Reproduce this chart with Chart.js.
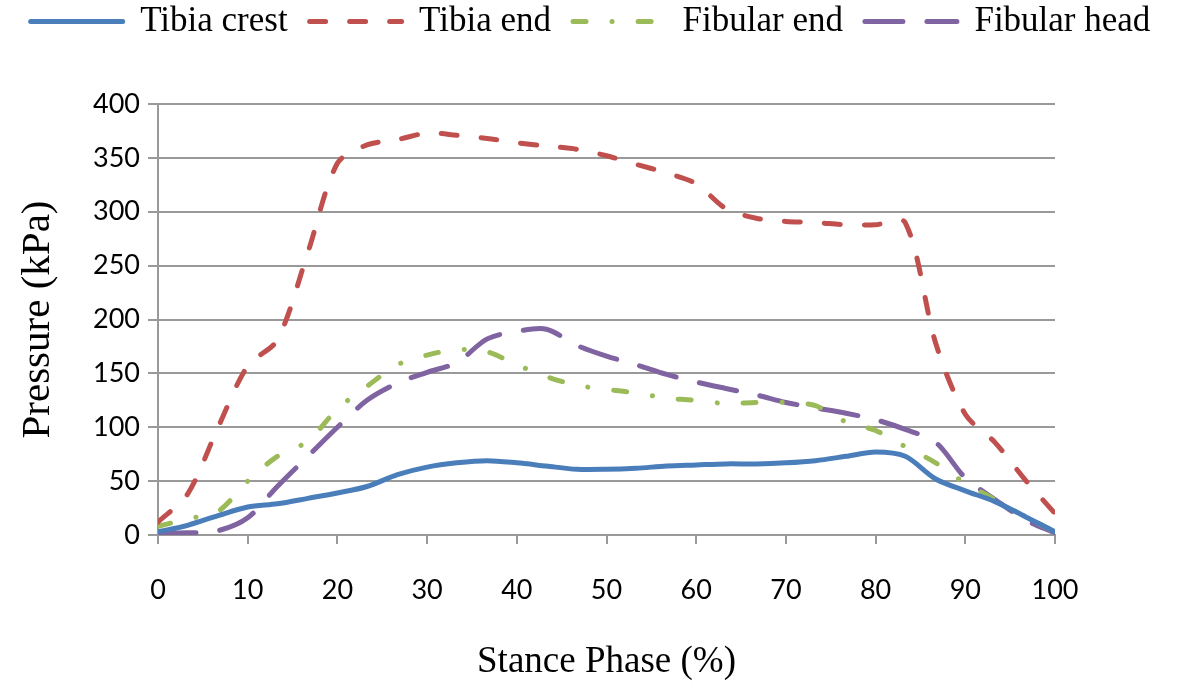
<!DOCTYPE html>
<html>
<head>
<meta charset="utf-8">
<script src="https://cdn.jsdelivr.net/npm/chart.js@4/dist/chart.umd.min.js"></script>
<style>
html, body { margin: 0; padding: 0; background: #fff; }
#wrap { width: 1181px; height: 686px; }
</style>
</head>
<body>
<div id="wrap"><canvas id="myChart" width="1181" height="686"></canvas></div>
<script>
// stance phase (%) sample points
var stance = [0, 3.3, 6.7, 10, 13.3, 16.7, 20, 23.3, 26.7, 30, 33.3, 36.7, 40, 43.3, 46.7, 50,
              53.3, 56.7, 60, 63.3, 66.7, 70, 73.3, 76.7, 80, 83.3, 86.7, 90, 93.3, 96.7, 100];

// pressure (kPa)
var tibiaCrest = [3, 9, 18, 26, 29, 34, 39, 45, 56, 63, 67, 69, 67, 64, 61, 61,
                  62, 64, 65, 66, 66, 67, 69, 73, 77, 73, 52, 41, 31, 17, 3];
var tibiaEnd = [12, 38, 100, 157, 181, 262, 345, 362, 367, 373, 371, 368, 364, 361, 358, 352,
                344, 336, 326, 303, 294, 291, 290, 288, 288, 290, 178, 112, 86, 51, 20];
var fibularEnd = [8, 15, 22, 50, 73, 87, 117, 138, 158, 167, 172, 170, 158, 147, 139, 135,
                  132, 127, 125, 122, 123, 123, 120, 105, 97, 82, 67, 48, 33, 17, 3];
var fibularHead = [2, 2, 4, 16, 45, 73, 100, 125, 141, 151, 160, 182, 189, 191, 176, 166,
                   158, 149, 142, 136, 130, 123, 118, 113, 107, 98, 86, 53, 33, 14, 2];

var seriesNames = ['Tibia crest', 'Tibia end', 'Fibular end', 'Fibular head'];
var xTicks = { min: 0, max: 100, step: 10 };
var yTicks = { min: 0, max: 400, step: 50 };

function pts(ys) {
  return ys.map(function (y, i) { return { x: stance[i], y: y }; });
}

function lineSet(label, ys, color, dash) {
  return {
    label: label,
    data: pts(ys),
    borderColor: color,
    backgroundColor: color,
    borderWidth: 5,
    borderDash: dash,
    borderCapStyle: 'round',
    pointStyle: 'line',
    pointRadius: 0,
    pointHoverRadius: 0,
    tension: 0.3,
    fill: false
  };
}

// extra room between legend and plot
var legendGap = {
  id: 'legendGap',
  afterInit: function (chart) {
    if (!chart.legend) return;
    var fit = chart.legend.fit;
    chart.legend.fit = function () {
      fit.call(this);
      this.height += 55;
    };
  }
};

var serif = 'Liberation Serif';
var sans = 'Lato';

var graph = new Chart(document.getElementById('myChart'), {
  type: 'line',
  data: {
    datasets: [
      lineSet(seriesNames[0], tibiaCrest, '#4a7ebb', []),
      lineSet(seriesNames[1], tibiaEnd, '#c0504d', [16, 24]),
      lineSet(seriesNames[2], fibularEnd, '#9bbb59', [13, 26, 0.1, 26]),
      lineSet(seriesNames[3], fibularHead, '#8064a2', [38, 24])
    ]
  },
  options: {
    responsive: false,
    devicePixelRatio: 1,
    animation: false,
    layout: { padding: { top: -18, left: 0, right: 0, bottom: 0 } },
    plugins: {
      legend: {
        position: 'top',
        labels: {
          usePointStyle: true,
          pointStyleWidth: 92,
          padding: 22,
          color: '#000',
          font: { family: serif, size: 35 },
          generateLabels: function (chart) {
            var items = Chart.defaults.plugins.legend.labels.generateLabels(chart);
            items.forEach(function (it) {
              var ds = chart.data.datasets[it.datasetIndex];
              it.lineDash = ds.borderDash;
              it.lineWidth = ds.borderWidth;
              it.lineCap = 'round';
            });
            return items;
          }
        }
      },
      tooltip: { enabled: false }
    },
    scales: {
      x: {
        type: 'linear',
        min: xTicks.min,
        max: xTicks.max,
        afterFit: function (s) { s.height = 151; },
        grid: { drawOnChartArea: false, drawTicks: true, tickLength: 9, color: '#999', lineWidth: 2 },
        border: { color: '#999', width: 2 },
        ticks: { stepSize: xTicks.step, padding: 30, color: '#000', font: { family: sans, size: 27 } },
        title: {
          display: true,
          text: 'Stance Phase (%)',
          color: '#000',
          font: { family: serif, size: 37 },
          padding: { top: 0, bottom: 2 }
        }
      },
      y: {
        min: yTicks.min,
        max: yTicks.max,
        afterFit: function (s) { s.width = 158; },
        grid: { color: '#999', lineWidth: 2, tickLength: 10 },
        border: { color: '#999', width: 2 },
        ticks: { stepSize: yTicks.step, padding: 8, color: '#000', font: { family: sans, size: 27 } },
        title: {
          display: true,
          text: 'Pressure (kPa)',
          color: '#000',
          font: { family: serif, size: 41 },
          padding: { top: 14, bottom: 0 }
        }
      },
      y2: {
        position: 'right',
        afterFit: function (s) { s.width = 126; },
        grid: { display: false },
        border: { display: false },
        ticks: { display: false }
      }
    }
  },
  plugins: [legendGap]
});
</script>
</body>
</html>
